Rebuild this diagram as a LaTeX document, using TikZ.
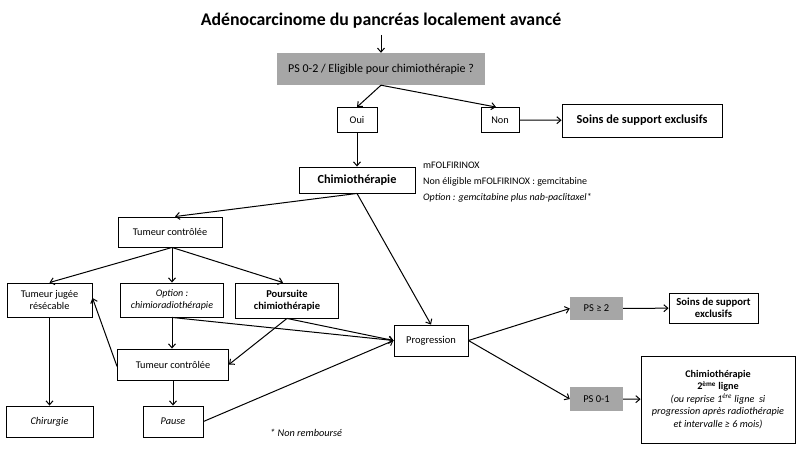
\documentclass[tikz,border=0pt]{standalone}
\usepackage{fontspec}
\setmainfont{Carlito}
\usetikzlibrary{arrows.meta}
\definecolor{boxgray}{RGB}{166,166,166}
\tikzset{
  box/.style={draw=black, line width=0.9pt, fill=white, inner sep=1pt, align=center, font=\fontsize{10.3}{12.3}\selectfont},
  graybox/.style={fill=boxgray, inner sep=1pt, align=center, font=\fontsize{10.5}{12}\selectfont},
  arr/.style={line width=1pt, -{Straight Barb[length=4pt,width=7pt,line width=1pt]}},
  note/.style={inner sep=0pt, anchor=west, font=\fontsize{10}{12}\selectfont}
}
\begin{document}
\begin{tikzpicture}[x=1pt,y=-1pt]
\useasboundingbox (0,0) rectangle (800,470);
\fill[white] (0,0) rectangle (800,470);

\node[inner sep=0pt, font=\bfseries\fontsize{17.8}{20}\selectfont] (title) at (381,21) {Adénocarcinome du pancréas localement avancé};
\coordinate (tarr) at (381,35);

\node[graybox, minimum width=208pt, minimum height=32pt, font=\fontsize{12}{14}\selectfont] (ps02) at (381,69) {PS 0-2 / Eligible pour chimiothérapie ?};
\node[box, minimum width=40pt, minimum height=25pt] (oui) at (357,120) {Oui};
\node[box, minimum width=38pt, minimum height=25pt] (non) at (500,120) {Non};
\node[box, minimum width=160pt, minimum height=33pt, font=\bfseries\fontsize{12.3}{14}\selectfont] (soins1) at (642,120.5) {Soins de support exclusifs};

\node[box, minimum width=116pt, minimum height=26pt, font=\bfseries\fontsize{12.3}{14}\selectfont] (chimio) at (357,180) {Chimiothérapie};
\node[note] (t1) at (423,165) {mFOLFIRINOX};
\node[note] (t2) at (423,182) {Non éligible mFOLFIRINOX : gemcitabine};
\node[note, font=\itshape\fontsize{10}{12}\selectfont] (t3) at (423,198) {Option : gemcitabine plus nab-paclitaxel*};

\node[box, minimum width=104pt, minimum height=30pt] (tc1) at (170,232) {Tumeur contrôlée};
\node[box, minimum width=85pt, minimum height=34pt] (tjr) at (49.5,300) {Tumeur jugée\\résécable};
\node[box, minimum width=103pt, minimum height=34pt, font=\itshape\fontsize{10}{12}\selectfont] (opt) at (172,300) {Option :\\chimioradiothérapie};
\node[box, minimum width=103pt, minimum height=35pt, font=\bfseries\fontsize{10.5}{12.5}\selectfont] (pour) at (287,300.5) {Poursuite\\chimiothérapie};

\node[box, minimum width=74pt, minimum height=31pt, font=\fontsize{10.5}{12.5}\selectfont] (prog) at (431,340.5) {Progression};
\node[box, minimum width=111pt, minimum height=31pt] (tc2) at (173,364.5) {Tumeur contrôlée};
\node[box, minimum width=87pt, minimum height=31pt, font=\itshape\fontsize{10.3}{12}\selectfont] (chir) at (49.5,421.5) {Chirurgie};
\node[box, minimum width=60pt, minimum height=31pt, font=\itshape\fontsize{10.3}{12}\selectfont] (pause) at (173,421.5) {Pause};
\node[note, font=\itshape\fontsize{10.3}{12}\selectfont] (nr) at (270,433) {* Non remboursé};

\node[graybox, minimum width=53pt, minimum height=23pt] (ps2) at (596.5,308.5) {PS ≥ 2};
\node[box, minimum width=89pt, minimum height=30pt, font=\bfseries\fontsize{10.7}{12.5}\selectfont] (soins2) at (713.5,308) {Soins de support\\exclusifs};
\node[graybox, minimum width=53pt, minimum height=24pt] (ps01) at (596.5,399) {PS 0-1};
\node[box, minimum width=154pt, minimum height=87pt, font=\fontsize{10.2}{12.5}\selectfont] (ch2) at (718,399.5)
  {\textbf{Chimiothérapie}\\\textbf{2\textsuperscript{ème} ligne}\\\textit{(ou reprise 1\textsuperscript{ère} ligne\ \ si}\\\textit{progression après radiothérapie}\\\textit{et intervalle ≥ 6 mois)}};

% connectors
\draw[arr] (tarr) -- (tarr |- ps02.north);
\draw[arr] (ps02.south) -- (oui.north);
\draw[arr] (ps02.south) -- ([xshift=-4pt]non.north);
\draw[arr] (non) -- (soins1);
\draw[arr] (oui.south) -- (chimio.north);
\draw[arr] (chimio.south) -- ([xshift=5pt]tc1.north);
\draw[arr] (chimio.south) -- (prog.north);

\draw[arr] ([xshift=2pt]tc1.south) -- (tjr.north);
\draw[arr] ([xshift=2pt]tc1.south) -- (opt.north);
\draw[arr] ([xshift=2pt]tc1.south) -- ([xshift=-4pt]pour.north);

\draw[arr] (tjr.south) -- (chir.north);
\draw[arr] (opt.south) -- (opt.south |- tc2.north);
\draw[arr] (opt.south) -- (prog.west);
\draw[arr] (pour.south) -- (prog.west);
\draw[arr] (pour.south) -- (tc2.east);
\draw[arr] ([yshift=-2pt]tc2.west) -- ([yshift=2pt]tjr.east);
\draw[arr] (tc2.south) -- (pause.north);
\draw[arr] (pause.east) -- (prog.west);

\draw[arr] (prog.east) -- (ps2.west);
\draw[arr] (prog.east) -- (ps01.west);
\draw[arr] (ps2) -- (soins2);
\draw[arr] (ps01) -- (ch2);
\end{tikzpicture}
\end{document}
